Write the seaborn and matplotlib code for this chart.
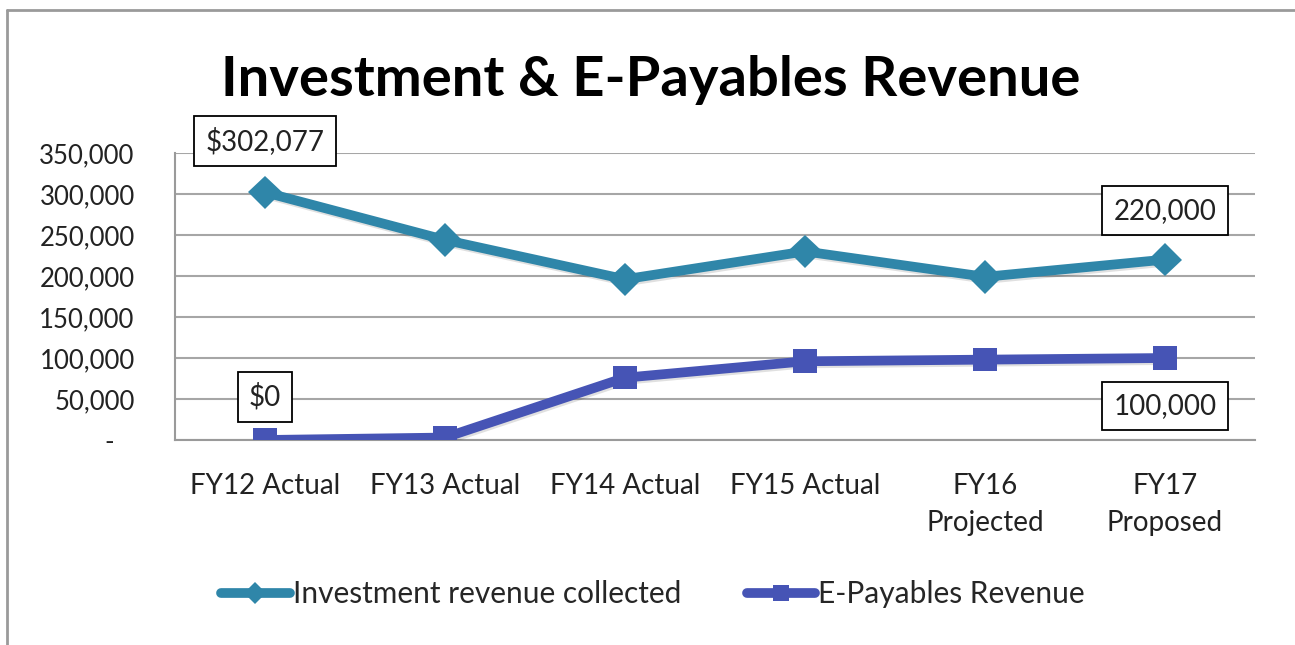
import matplotlib
matplotlib.use("Agg")
import matplotlib.pyplot as plt
import matplotlib.patheffects as pe
from matplotlib.lines import Line2D
from matplotlib.ticker import FuncFormatter, FixedLocator
import seaborn as sns
import pandas as pd

# データ
categories = ["FY12 Actual", "FY13 Actual", "FY14 Actual", "FY15 Actual",
              "FY16\nProjected", "FY17\nProposed"]
investment = [302077, 244000, 196000, 230000, 199000, 220000]
epayables = [0, 3000, 76000, 96000, 98000, 100000]
series_names = ["Investment revenue collected", "E-Payables Revenue"]
colors = {"Investment revenue collected": "#2F86A9", "E-Payables Revenue": "#4654B5"}
markers = {"Investment revenue collected": "D", "E-Payables Revenue": "s"}

df = pd.DataFrame({
    "x": list(range(len(categories))) * 2,
    "value": investment + epayables,
    "series": [series_names[0]] * len(categories) + [series_names[1]] * len(categories),
})

sns.set_style("white")
plt.rcParams['font.family'] = ['Lato', 'DejaVu Sans']

fig = plt.figure(figsize=(12.95, 6.45), dpi=100)
ax = fig.add_axes([175 / 1295, 1 - 440 / 645, 1080 / 1295, 287 / 645])

sns.lineplot(data=df, x="x", y="value", hue="series", style="series",
             palette=colors, markers=markers, dashes=False, linewidth=7,
             markersize=17, markeredgewidth=0, legend=False, ax=ax,
             sort=False, zorder=3)

shadow = [pe.SimpleLineShadow(offset=(1, -1.5), alpha=0.12), pe.Normal()]
for ln in ax.get_lines():
    ln.set_path_effects(shadow)
    ln.set_solid_capstyle("butt")

ax.set_xlim(-0.5, len(categories) - 0.5)
ax.set_ylim(0, 350000)
ax.set_xlabel("")
ax.set_ylabel("")

# 軸の目盛り
ax.set_yticks(range(0, 350001, 50000))
ax.yaxis.set_major_formatter(FuncFormatter(lambda v, p: "-   " if v == 0 else f"{int(v):,}"))
ax.set_xticks(range(len(categories)))
ax.set_xticklabels(categories, linespacing=1.5)
ax.xaxis.set_minor_locator(FixedLocator([i - 0.5 for i in range(len(categories) + 1)]))
ax.tick_params(axis="x", which="major", length=0, pad=24, labelsize=20, colors="#222222")
ax.tick_params(axis="x", which="minor", length=8, width=1.5, color="#9a9a9a")
ax.tick_params(axis="y", length=12, width=1.5, color="#9a9a9a", pad=17, labelsize=18.5,
               labelcolor="#222222")
ax.grid(axis="y", color="#a6a6a6", linewidth=1.5)
ax.grid(axis="x", visible=False)
for s in ["top", "right"]:
    ax.spines[s].set_visible(False)
for s in ["left", "bottom"]:
    ax.spines[s].set_color("#9a9a9a")
    ax.spines[s].set_linewidth(1.5)
ax.set_axisbelow(True)

# データラベル
box = dict(boxstyle="square,pad=0.4", fc="white", ec="black", lw=1.3)
labels = [
    (0, investment[0], "$302,077", 51),
    (5, investment[5], "220,000", 49),
    (0, epayables[0], "$0", 43),
    (5, epayables[5], "100,000", -48),
]
for xi, yi, txt, dy in labels:
    ax.annotate(txt, (xi, yi), xytext=(0, dy), textcoords="offset pixels",
                ha="center", va="center", fontsize=20, color="#222222",
                bbox=box, zorder=5, annotation_clip=False)

fig.text(651 / 1295, 1 - 80 / 645, "Investment & E-Payables Revenue",
         ha="center", va="center", fontsize=40.5, fontweight="bold", color="black")

handles = [Line2D([], [], color=colors[n], marker=markers[n], linewidth=7,
                  markersize=11, markeredgewidth=0) for n in series_names]
fig.legend(handles, series_names, loc="center", bbox_to_anchor=(653 / 1295, 1 - 594 / 645),
           ncol=2, frameon=False, fontsize=21.5, handlelength=2.3, handletextpad=0.1,
           columnspacing=2.2)

# 外枠
fig.add_artist(Line2D([7 / 1295, 1], [1 - 10 / 645, 1 - 10 / 645],
                      transform=fig.transFigure, color="#9a9a9a", linewidth=2))
fig.add_artist(Line2D([7 / 1295, 7 / 1295], [0, 1 - 10 / 645],
                      transform=fig.transFigure, color="#9a9a9a", linewidth=2))

fig.savefig("out.png", dpi=100)
